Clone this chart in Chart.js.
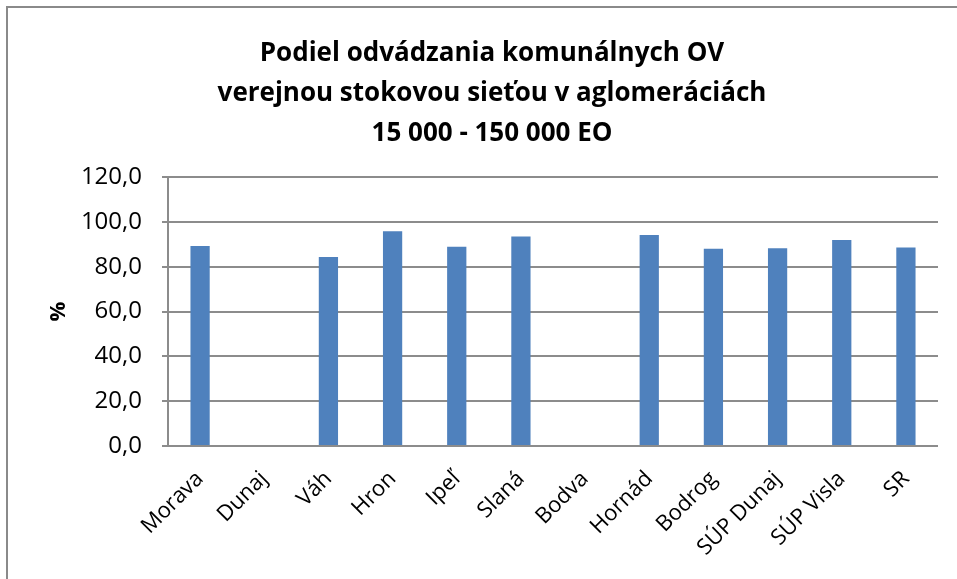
<!DOCTYPE html>
<html>
<head>
<meta charset="utf-8">
<script src="https://cdn.jsdelivr.net/npm/chart.js@4"></script>
<style>
  html, body { margin: 0; padding: 0; background: #fff; overflow: hidden; }
  #wrap { position: relative; width: 957px; height: 579px; }
  #frame { position: absolute; left: 6px; top: 6px; width: 2000px; height: 2000px;
           border-left: 2px solid #8a8a8a; border-top: 2px solid #8a8a8a; }
  canvas { position: absolute; left: 0; top: 0; }
</style>
</head>
<body>
<div id="wrap">
  <div id="frame"></div>
  <canvas id="chart" width="957" height="579"></canvas>
</div>
<script>
const categories = ["Morava", "Dunaj", "Váh", "Hron", "Ipeľ", "Slaná", "Bodva", "Hornád", "Bodrog", "SÚP Dunaj", "SÚP Visla", "SR"];
const shareValues = [89.2, null, 84.3, 95.8, 88.9, 93.5, null, 94.1, 88.0, 88.2, 91.9, 88.5];
const titleLines = ["Podiel odvádzania komunálnych OV", "verejnou stokovou sieťou v aglomeráciách", "15 000 - 150 000 EO"];
const yTitle = "%";

const fontFamily = "'Open Sans', 'Liberation Sans', sans-serif";

new Chart(document.getElementById('chart').getContext('2d'), {
    type: 'bar',
    data: {
        labels: categories,
        datasets: [{
            data: shareValues,
            backgroundColor: '#4F81BD',
            borderWidth: 0,
            barPercentage: 0.3,
            categoryPercentage: 1.0
        }]
    },
    options: {
        responsive: false,
        animation: false,
        layout: { padding: { left: 46, right: 19, top: 0, bottom: 0 } },
        plugins: {
            legend: { display: false },
            tooltip: { enabled: false },
            title: {
                display: true,
                text: titleLines,
                color: '#000',
                font: { family: fontFamily, size: 26, weight: 'bold', lineHeight: 40 / 26 },
                padding: { top: 34, bottom: 23 }
            }
        },
        scales: {
            x: {
                grid: { display: false },
                border: { display: false },
                ticks: {
                    color: '#000',
                    font: { family: fontFamily, size: 22 },
                    maxRotation: 45,
                    minRotation: 45,
                    autoSkip: false,
                    padding: 12
                },
                afterFit: scale => { scale.height = 579 - 446; }
            },
            y: {
                min: 0,
                max: 120,
                ticks: {
                    stepSize: 20,
                    color: '#000',
                    font: { family: fontFamily, size: 24 },
                    padding: 20,
                    callback: v => v.toFixed(1).replace('.', ',')
                },
                grid: { color: '#8c8c8c', lineWidth: 2, tickLength: 6, drawTicks: true },
                border: { display: true, color: '#8c8c8c', width: 2 },
                title: {
                    display: true,
                    text: yTitle,
                    color: '#000',
                    font: { family: fontFamily, size: 22, weight: 'bold' },
                    padding: { top: 0, bottom: 0 }
                },
                afterFit: scale => { scale.width = 168 - 46; }
            }
        }
    }
});
</script>
</body>
</html>
